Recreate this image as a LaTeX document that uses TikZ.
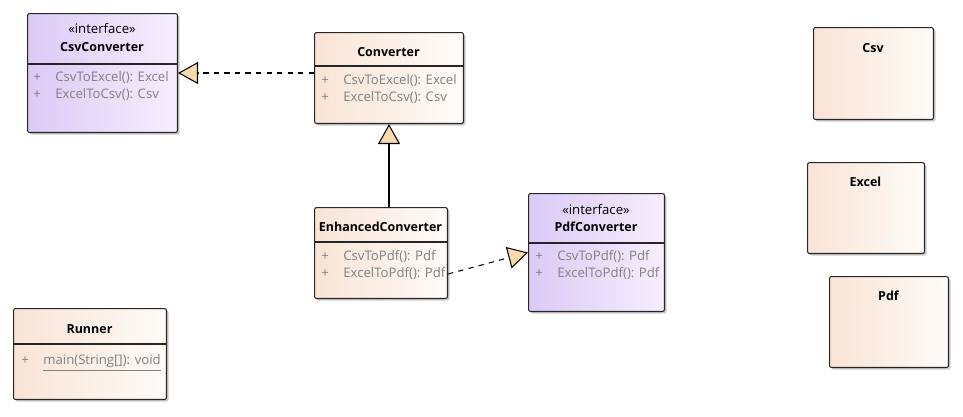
\documentclass[tikz,border=0pt]{standalone}
\usepackage{fontspec}
\setmainfont{Open Sans}
\usetikzlibrary{arrows.meta,shadows}
\definecolor{clsleft}{RGB}{249,228,214}
\definecolor{clsright}{RGB}{255,251,248}
\definecolor{ifleft}{RGB}{220,202,246}
\definecolor{ifright}{RGB}{246,238,253}
\definecolor{tipfill}{RGB}{250,218,172}
\definecolor{membergray}{RGB}{128,128,128}
\begin{document}
\begin{tikzpicture}[x=0.02cm,y=-0.02cm,
  box/.style={draw=black!85,line width=0.6pt,rounded corners=1.2pt,anchor=north west,inner sep=0,
    drop shadow={shadow xshift=1.2pt,shadow yshift=-1.2pt,opacity=0.2,fill=black}},
  cls/.style={box,left color=clsleft,right color=clsright},
  iface/.style={box,left color=ifleft,right color=ifright},
  title/.style={font=\fontsize{7.1}{9}\selectfont\bfseries,inner sep=0,text height=6pt,text depth=1.5pt},
  stereo/.style={inner sep=0,text height=6pt,text depth=1.5pt},
  member/.style={anchor=west,inner sep=0,text height=6pt,text depth=1.5pt,text=membergray},
  sep/.style={draw=black!85,line width=0.6pt},
  realize/.style={draw,line width=0.6pt,dashed,-{Triangle[length=0.4cm,width=0.44cm,fill=tipfill]}},
  inherit/.style={draw,line width=0.6pt,-{Triangle[length=0.4cm,width=0.44cm,fill=tipfill]}}]
\fontsize{7.5}{9}\selectfont
\useasboundingbox (0,0) rectangle (963,416);
\newcommand{\plus}{\makebox[0.44cm][l]{+}}
% boxes
\node[iface, minimum width=3cm, minimum height=2.38cm] (ccsv) at (27,13) {};
\node[cls, minimum width=2.98cm, minimum height=1.82cm] (conv) at (314,32) {};
\node[cls, minimum width=2.66cm, minimum height=1.82cm] (enh) at (314,207) {};
\node[iface, minimum width=2.72cm, minimum height=2.36cm] (ipdf) at (528,193) {};
\node[cls, minimum width=3.06cm, minimum height=1.82cm] (runner) at (13,308) {};
\node[cls, minimum width=2.4cm, minimum height=1.84cm] (csv) at (813,27) {};
\node[cls, minimum width=2.34cm, minimum height=1.82cm] (excel) at (807,162) {};
\node[cls, minimum width=2.38cm, minimum height=1.82cm] (pdf) at (829,276) {};
% compartments
\path[sep] (ccsv.west |- 0,64) -- (ccsv.east |- 0,64);
\path[sep] (conv.west |- 0,66) -- (conv.east |- 0,66);
\path[sep] (enh.west |- 0,242) -- (enh.east |- 0,242);
\path[sep] (ipdf.west |- 0,243) -- (ipdf.east |- 0,243);
\path[sep] (runner.west |- 0,344) -- (runner.east |- 0,344);
% titles
\node[stereo] (ccsv-s) at (102,30) {«interface»};
\node[title] (ccsv-t) at (102,48) {CsvConverter};
\node[title] (conv-t) at (388.5,53) {Converter};
\node[title] (enh-t) at (380.5,228) {EnhancedConverter};
\node[stereo] (ipdf-s) at (596,211) {«interface»};
\node[title] (ipdf-t) at (596,228) {PdfConverter};
\node[title] (runner-t) at (89.5,330) {Runner};
\node[title] (csv-t) at (873,49) {Csv};
\node[title] (excel-t) at (865.5,183) {Excel};
\node[title] (pdf-t) at (888.5,297) {Pdf};
% members
\node[member] (ccsv-1) at (33,78) {\plus CsvToExcel(): Excel};
\node[member] (ccsv-2) at (33,95) {\plus ExcelToCsv(): Csv};
\node[member] (conv-1) at (321,81) {\plus CsvToExcel(): Excel};
\node[member] (conv-2) at (321,98) {\plus ExcelToCsv(): Csv};
\node[member] (enh-1) at (321,257) {\plus CsvToPdf(): Pdf};
\node[member] (enh-2) at (321,274) {\plus ExcelToPdf(): Pdf};
\node[member] (ipdf-1) at (535,257) {\plus CsvToPdf(): Pdf};
\node[member] (ipdf-2) at (535,274) {\plus ExcelToPdf(): Pdf};
\node[member] (runner-1) at (21,361) {\plus\underline{main(String[]): void}};
% relations
\path[realize] (conv.west |- ccsv.east) -- (ccsv.east);
\path[inherit] (enh.north -| conv.south) -- (conv.south);
\path[realize] (enh.east |- enh-2) -- (ipdf.west);
\end{tikzpicture}
\end{document}
